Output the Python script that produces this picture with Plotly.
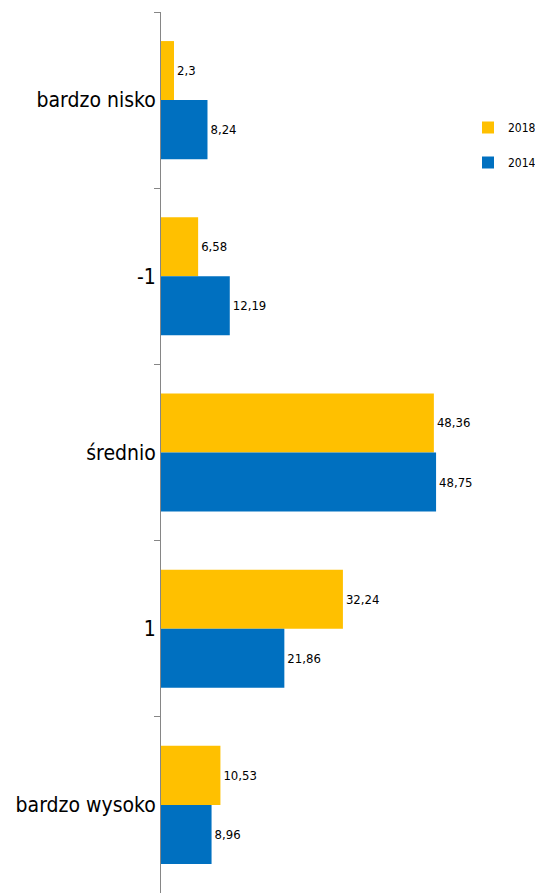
import plotly.graph_objects as go

categories = ["bardzo nisko", "-1", "średnio", "1", "bardzo wysoko"]
values_2018 = [2.3, 6.58, 48.36, 32.24, 10.53]
values_2014 = [8.24, 12.19, 48.75, 21.86, 8.96]
series_names = ["2018", "2014"]
colors = ["#FFC000", "#0070C0"]

FONT = "DejaVu Sans Condensed, Liberation Sans Narrow, sans-serif"

def fmt(v):
    return str(v).replace(".", ",")

fig = go.Figure()
for name, vals, col in zip(series_names, [values_2018, values_2014], colors):
    fig.add_trace(go.Bar(
        y=categories, x=vals, name=name, orientation="h",
        marker=dict(color=col, line=dict(width=0)),
        text=[fmt(v) for v in vals], textposition="outside",
        textfont=dict(family=FONT, size=13, color="#000000"),
        cliponaxis=False, legendgroup=name,
    ))

# page body has an 8px margin; the figure is sized to fill the rest of the window
W, H = 535, 885
L = 153
fig.update_layout(
    width=W, height=H,
    margin=dict(l=L, r=0, t=4, b=0, autoexpand=False),
    paper_bgcolor="white", plot_bgcolor="white",
    barmode="group", bargap=0.33, bargroupgap=0,
    font=dict(family=FONT, color="#000000"),
    showlegend=True,
    legend=dict(
        x=(468 - 161) / 382, xref="paper", xanchor="left",
        y=1 - 105 / H, yref="container", yanchor="top",
        font=dict(family=FONT, size=12, color="#000000"),
        traceorder="grouped", tracegroupgap=16,
        itemwidth=30,
        bgcolor="rgba(0,0,0,0)",
    ),
    xaxis=dict(range=[0, 67.7], visible=False, showgrid=False, zeroline=False, fixedrange=True),
    yaxis=dict(
        autorange="reversed", type="category", automargin=False,
        showline=True, linecolor="#868686", linewidth=1,
        ticks="outside", ticklen=6, tickcolor="#868686", tickson="boundaries",
        tickfont=dict(family=FONT, size=21, color="#000000"),
        showgrid=False, zeroline=False,
    ),
)

fig.write_html("out.html")
